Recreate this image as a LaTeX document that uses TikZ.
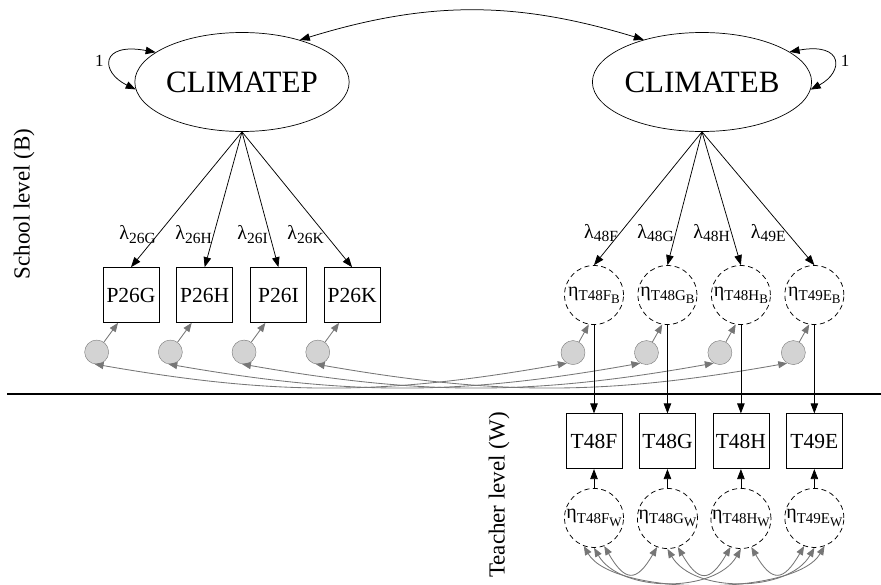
\documentclass[tikz,border=0pt]{standalone}
\usepackage{fontspec}
\setmainfont{Liberation Serif}
\usetikzlibrary{arrows.meta,positioning,shapes.geometric}

\definecolor{errgray}{HTML}{767676}
\definecolor{errfill}{HTML}{D3D3D3}
% subscripts for loadings and residuals
\newcommand{\sbs}[1]{\raisebox{-0.4ex}{\fontsize{15.5}{15.5}\selectfont #1}}
\newcommand{\etalab}[2]{η\raisebox{-0.45ex}{\fontsize{15}{15}\selectfont T#1\raisebox{-0.45ex}{\fontsize{13}{13}\selectfont #2}}}

\begin{document}
\begin{tikzpicture}[x=1pt, y=1pt,
    lat/.style={draw, ellipse, minimum width=205pt, minimum height=99pt,
      inner sep=0pt, line width=0.7pt, font=\fontsize{31}{32}\selectfont},
    obs/.style={draw, minimum width=56pt, minimum height=55pt, inner sep=0pt,
      line width=0.7pt, font=\fontsize{21.5}{22}\selectfont},
    res/.style={draw, circle, dash pattern=on 5pt off 3.5pt, line width=0.75pt,
      minimum size=59pt, inner sep=0pt, font=\fontsize{20}{20}\selectfont},
    err/.style={draw=errgray, fill=errfill, circle, minimum size=24pt, inner sep=0pt},
    arr/.style={-{Triangle[length=10pt,width=7.5pt]}, line width=0.75pt},
    biarr/.style={{Triangle[length=10pt,width=7.5pt]}-{Triangle[length=10pt,width=7.5pt]}, line width=0.75pt},
    garr/.style={-{Triangle[length=9pt,width=7pt]}, draw=errgray, line width=0.85pt},
    gcov/.style={{Triangle[length=9pt,width=7pt]}-{Triangle[length=9pt,width=7pt]}, draw=errgray, line width=0.85pt},
    lam/.style={font=\fontsize{20}{20}\selectfont, inner sep=1.5pt},
    lvl/.style={font=\fontsize{23}{24}\selectfont, rotate=90}
  ]
  \useasboundingbox (0,0) rectangle (881,-584);

  % latent factors
  \node[lat] (climp) at (242,-82) {CLIMATEP};
  \node[lat] (climb) at (702,-82) {CLIMATEB};

  % school level indicators
  \node[obs] (p26g) at (131,-295) {P26G};
  \node[obs, right=17pt of p26g] (p26h) {P26H};
  \node[obs, right=17pt of p26h] (p26i) {P26I};
  \node[obs, right=17pt of p26i] (p26k) {P26K};

  \node[res] (t48fb) at (594,-295) {\etalab{48F}{B}};
  \node[res, right=13.7pt of t48fb] (t48gb) {\etalab{48G}{B}};
  \node[res, right=13.7pt of t48gb] (t48hb) {\etalab{48H}{B}};
  \node[res, right=13.7pt of t48hb] (t49eb) {\etalab{49E}{B}};

  % residuals
  \node[err, below=17pt of p26g.south west, xshift=-6pt] (ep26g) {};
  \node[err, below=17pt of p26h.south west, xshift=-6pt] (ep26h) {};
  \node[err, below=17pt of p26i.south west, xshift=-6pt] (ep26i) {};
  \node[err, below=17pt of p26k.south west, xshift=-6pt] (ep26k) {};
  \node[err, below=15.5pt of t48fb.south, xshift=-21pt] (et48f) {};
  \node[err, below=15.5pt of t48gb.south, xshift=-21pt] (et48g) {};
  \node[err, below=15.5pt of t48hb.south, xshift=-21pt] (et48h) {};
  \node[err, below=15.5pt of t49eb.south, xshift=-21pt] (et49e) {};

  % teacher level
  \node[obs, below=88.5pt of t48fb] (t48f) {T48F};
  \node[obs, below=88.5pt of t48gb] (t48g) {T48G};
  \node[obs, below=88.5pt of t48hb] (t48h) {T48H};
  \node[obs, below=88.5pt of t49eb] (t49e) {T49E};
  \node[res, below=19pt of t48f] (t48fw) {\etalab{48F}{W}};
  \node[res, below=19pt of t48g] (t48gw) {\etalab{48G}{W}};
  \node[res, below=19pt of t48h] (t48hw) {\etalab{48H}{W}};
  \node[res, below=19pt of t49e] (t49ew) {\etalab{49E}{W}};

  \node[lvl] (school) at (24,-204) {School level (B)};
  \node[lvl] (teacher) at (499,-495) {Teacher level (W)};

  % level divider
  \coordinate (divl) at (7,-394);
  \coordinate (divr) at (881,-394);
  \draw[line width=1.5pt] (divl) -- (divr);

  % factor covariance and variances
  \draw[biarr] (climp.36) to[bend left=17] (climb.144);
  \draw[biarr] (climp.184) .. controls (100,-72) and (100,-42) .. (climp.161)
    node[lam, pos=0.5, left=6pt, font=\fontsize{17}{17}\selectfont] (onep) {1};
  \draw[biarr] (climb.19) .. controls (844,-42) and (844,-72) .. (climb.356)
    node[lam, pos=0.5, right=6pt, font=\fontsize{17}{17}\selectfont] (oneb) {1};

  % loadings
  \draw[arr] (climp.south) -- (p26g.north) node[lam, pos=0.76, left] (l26g) {λ\sbs{26G}};
  \draw[arr] (climp.south) -- (p26h.north) node[lam, pos=0.76, left] (l26h) {λ\sbs{26H}};
  \draw[arr] (climp.south) -- (p26i.north) node[lam, pos=0.76, left] (l26i) {λ\sbs{26I}};
  \draw[arr] (climp.south) -- (p26k.north) node[lam, pos=0.76, left] (l26k) {λ\sbs{26K}};
  \draw[arr] (climb.south) -- (t48fb.north) node[lam, pos=0.76, left] (l48f) {λ\sbs{48F}};
  \draw[arr] (climb.south) -- (t48gb.north) node[lam, pos=0.76, left] (l48g) {λ\sbs{48G}};
  \draw[arr] (climb.south) -- (t48hb.north) node[lam, pos=0.76, left] (l48h) {λ\sbs{48H}};
  \draw[arr] (climb.south) -- (t49eb.north) node[lam, pos=0.76, left] (l49e) {λ\sbs{49E}};

  % residual paths
  \draw[garr] (ep26g) -- (p26g.245);
  \draw[garr] (ep26h) -- (p26h.245);
  \draw[garr] (ep26i) -- (p26i.245);
  \draw[garr] (ep26k) -- (p26k.245);
  \draw[garr] (et48f) -- (t48fb.260);
  \draw[garr] (et48g) -- (t48gb.260);
  \draw[garr] (et48h) -- (t48hb.260);
  \draw[garr] (et49e) -- (t49eb.260);

  % residual covariances (between)
  \draw[gcov] (ep26g.260) to[bend right=10] (et48f.240);
  \draw[gcov] (ep26h.260) to[bend right=10] (et48g.240);
  \draw[gcov] (ep26i.260) to[bend right=10] (et48h.240);
  \draw[gcov] (ep26k.260) to[bend right=10] (et49e.240);

  % between and within parts
  \draw[arr] (t48fb) -- (t48f);
  \draw[arr] (t48gb) -- (t48g);
  \draw[arr] (t48hb) -- (t48h);
  \draw[arr] (t49eb) -- (t49e);
  \draw[arr] (t48fw) -- (t48f);
  \draw[arr] (t48gw) -- (t48g);
  \draw[arr] (t48hw) -- (t48h);
  \draw[arr] (t49ew) -- (t49e);

  % within covariances
  \draw[gcov] (t48fw.290) to[out=-60, in=-120, looseness=2] (t48gw.250);
  \draw[gcov] (t48gw.290) to[out=-60, in=-120, looseness=2] (t48hw.250);
  \draw[gcov] (t48hw.290) to[out=-60, in=-120, looseness=2] (t49ew.250);
  \draw[gcov] (t48fw.270) to[out=-60, in=-120, looseness=0.9] (t48hw.270);
  \draw[gcov] (t48gw.270) to[out=-60, in=-120, looseness=0.9] (t49ew.270);
  \draw[gcov] (t48fw.250) to[out=-60, in=-120, looseness=0.62] (t49ew.290);
\end{tikzpicture}
\end{document}
